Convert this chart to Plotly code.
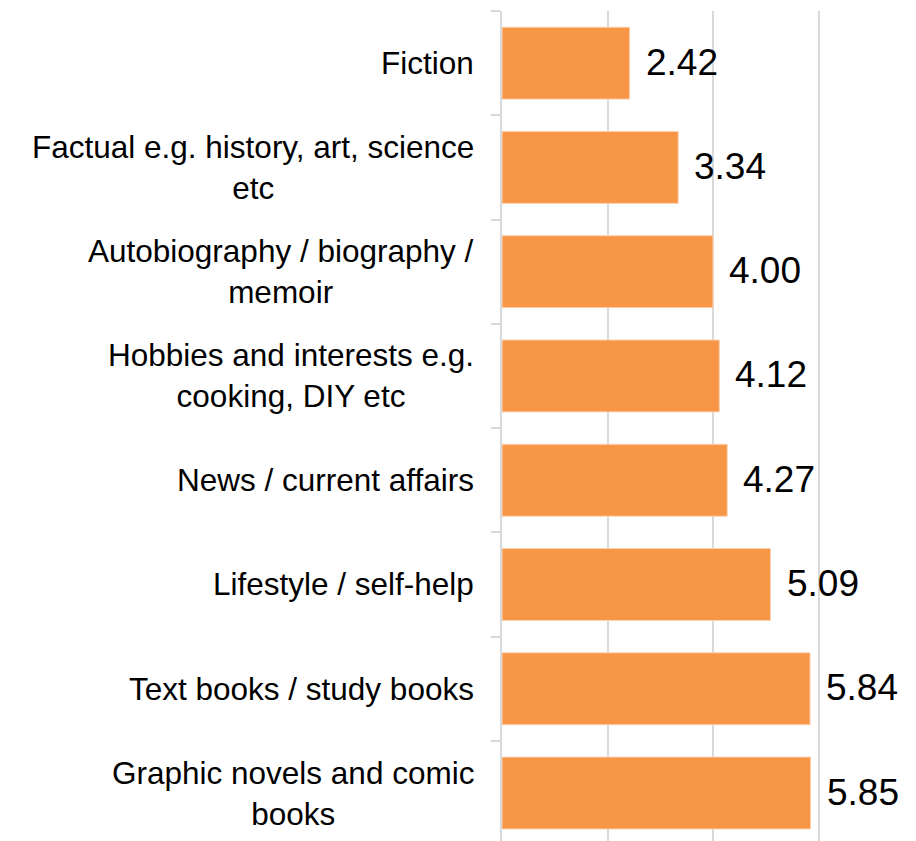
import plotly.graph_objects as go

categories = [
    "Fiction",
    "Factual e.g. history, art, science<br>etc",
    "Autobiography / biography /<br>memoir",
    "Hobbies and interests e.g.<br>cooking, DIY etc",
    "News / current affairs",
    "Lifestyle / self-help",
    "Text books / study books",
    "Graphic novels and comic<br>books",
]
values = [2.42, 3.34, 4.00, 4.12, 4.27, 5.09, 5.84, 5.85]
value_labels = ["2.42", "3.34", "4.00", "4.12", "4.27", "5.09", "5.84", "5.85"]

font_family = "Liberation Sans, Arial, sans-serif"

fig = go.Figure(go.Bar(
    x=values,
    y=categories,
    orientation="h",
    width=0.69,
    marker=dict(color="#F79646", line=dict(color="#FAD3B4", width=1)),
    hoverinfo="skip",
))

# value labels to the right of each bar
for cat, v, lab in zip(categories, values, value_labels):
    fig.add_annotation(x=v, y=cat, xref="x", yref="y", text=lab, showarrow=False,
                       xanchor="left", yanchor="middle", xshift=14, yshift=1,
                       font=dict(family=font_family, size=37, color="black"))

# category labels, centred multi-line text right-aligned to the axis
for cat in categories:
    fig.add_annotation(x=0, y=cat, xref="x", yref="y", text=cat, showarrow=False,
                       xanchor="right", yanchor="middle", align="center", xshift=-26,
                       font=dict(family=font_family, size=31.5, color="black"))

# page body has an 8px margin, so the figure is a bit smaller than the window
fig.update_layout(
    width=908, height=833,
    margin=dict(l=494, r=0, t=3, b=0),
    plot_bgcolor="white",
    paper_bgcolor="white",
    showlegend=False,
)
fig.update_xaxes(range=[0, 414 / 52.75], dtick=2, showticklabels=False,
                 showgrid=True, gridcolor="#D9D9D9", gridwidth=2,
                 zeroline=False, showline=False, fixedrange=True)
fig.update_yaxes(categoryorder="array", categoryarray=categories,
                 range=[7.46, -0.5], showticklabels=False,
                 showline=True, linecolor="#D9D9D9", linewidth=2,
                 ticks="outside", tickson="boundaries", ticklen=9,
                 tickcolor="#D9D9D9", tickwidth=2, fixedrange=True)

fig.write_html("out.html")
